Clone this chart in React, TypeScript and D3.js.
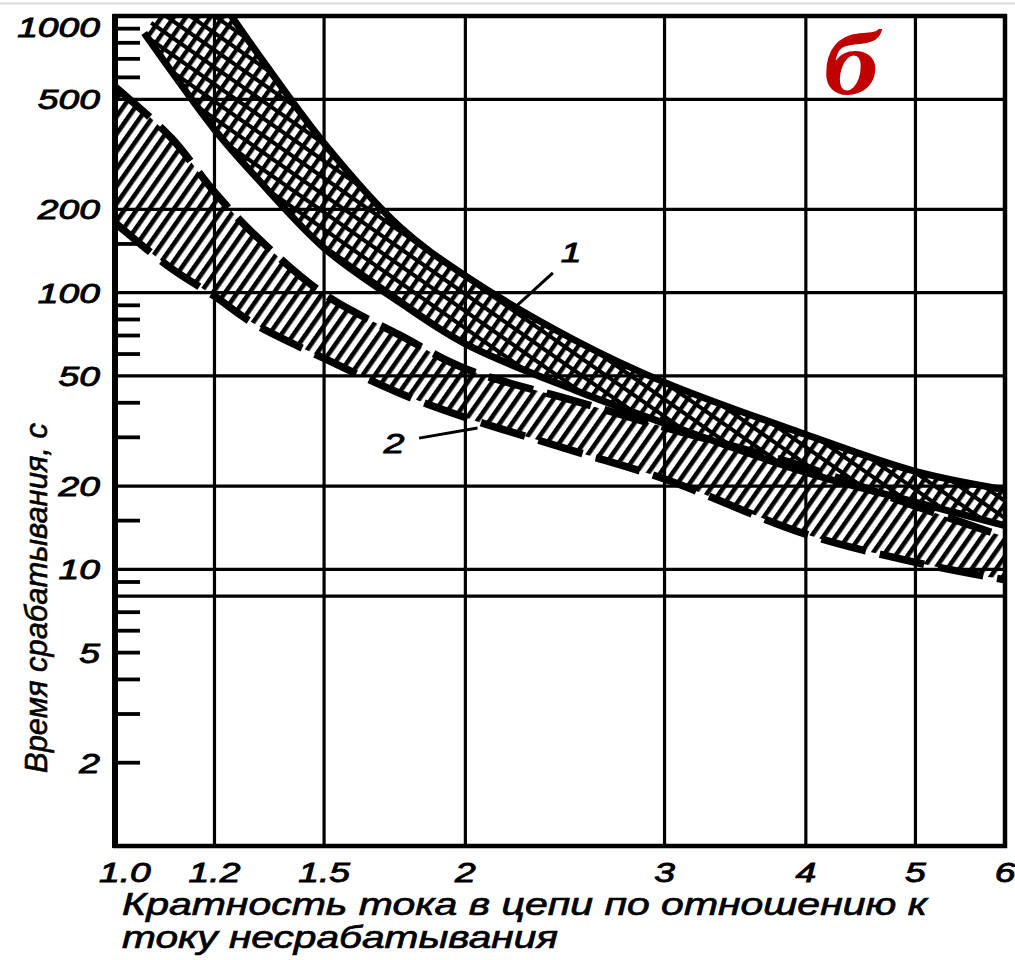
import React from 'react';
import * as d3 from 'd3';

const W = 1015;
const H = 960;
const PLOT = { left: 115, right: 1005, top: 16, bottom: 846 };

const X_DOMAIN: [number, number] = [0.98, 6];
const Y_DOMAIN: [number, number] = [1, 1000];

const xTickValues = [1.0, 1.2, 1.5, 2, 3, 4, 5, 6];
const xTickLabels = ['1.0', '1.2', '1.5', '2', '3', '4', '5', '6'];
const xGridValues = [1.2, 1.5, 2, 3, 4, 5];

const yTickValues = [1000, 500, 200, 100, 50, 20, 10, 5, 2];
const yTickLabels = ['1000', '500', '200', '100', '50', '20', '10', '5', '2'];
const yGridValues = [500, 200, 100, 50, 20, 10, 8];
const yMinorTicks = [900, 800, 700, 600, 150, 90, 80, 70, 60, 40, 30, 15, 9, 7, 6, 5, 4, 3, 2];

// Band 1 (cross-hatched), solid boundaries
const band1UpperX = [1.15, 1.2, 1.3, 1.5, 1.75, 2, 2.5, 3, 4, 5, 6];
const band1UpperY = [1576, 1227, 766, 347, 173, 115, 67.3, 47.4, 30.7, 22.6, 19.4];
const band1LowerX = [1.04, 1.1, 1.2, 1.3, 1.5, 1.75, 2, 2.5, 3, 4, 5, 6];
const band1LowerY = [868, 629, 389, 267, 145, 92.2, 65.3, 44.4, 33.7, 22.4, 17.5, 14.4];

// Band 2 (single-hatched), dashed boundaries
const band2X = [0.98, 1.0, 1.1, 1.2, 1.3, 1.5, 1.75, 2, 2.5, 3, 4, 5, 6];
const band2UpperY = [554, 517, 361, 231, 163, 98.8, 70.2, 53.1, 40.6, 32.6, 23.4, 16.9, 13.1];
const band2LowerY = [179, 167, 122, 97.1, 77.3, 57.9, 43.3, 35.4, 26.7, 21.2, 13.4, 10.6, 9.16];

// Curve labels with leader lines (data coordinates)
const curveLabels = [
  { text: '1', tx: 2.48, ty: 129, x1: 2.39, y1: 118, x2: 2.2, y2: 86.6 },
  { text: '2', tx: 1.73, ty: 26.3, x1: 1.82, y1: 29.8, x2: 2.05, y2: 32.4 },
];

const yTitle = 'Время срабатывания, с';
const xTitleLine1 = 'Кратность тока в цепи по отношению к';
const xTitleLine2 = 'току несрабатывания';
const panelLetter = 'б';

const SANS = '"Liberation Sans", Arial, sans-serif';
const SERIF = '"Liberation Serif", "Times New Roman", serif';
const STRETCH = 1.33;

export default function App() {
  const x = d3.scaleLog().domain(X_DOMAIN).range([PLOT.left, PLOT.right]);
  const y = d3.scaleLog().domain(Y_DOMAIN).range([PLOT.bottom, PLOT.top]);

  const line = d3
    .line<[number, number]>()
    .x((d) => x(d[0]))
    .y((d) => y(d[1]))
    .curve(d3.curveCatmullRom.alpha(0.5));

  const zip = (xs: number[], ys: number[]): [number, number][] => xs.map((v, i) => [v, ys[i]]);

  const b1U = zip(band1UpperX, band1UpperY);
  const b1L = zip(band1LowerX, band1LowerY);
  const b2U = zip(band2X, band2UpperY);
  const b2L = zip(band2X, band2LowerY);

  const areaPath = (lower: [number, number][], upper: [number, number][]) => {
    const a = line(lower) as string;
    const b = (line(upper.slice().reverse()) as string).substring(1);
    return a + 'L' + b + 'Z';
  };

  const textStyle = {
    fontFamily: SANS,
    fontStyle: 'italic' as const,
    fill: '#000',
    stroke: '#000',
  };

  return (
    <svg
      width={W}
      height={H}
      style={{ position: 'absolute', left: 0, top: 0, background: '#fff' }}
    >
      <defs>
        <clipPath id="plotClip">
          <rect x={PLOT.left} y={PLOT.top} width={PLOT.right - PLOT.left} height={PLOT.bottom - PLOT.top} />
        </clipPath>
        <pattern id="hatch2" patternUnits="userSpaceOnUse" width={10} height={10} patternTransform="rotate(35)">
          <rect x={0} y={0} width={4.6} height={10} fill="#000" />
        </pattern>
        <pattern id="hatch1" patternUnits="userSpaceOnUse" width={10} height={14} patternTransform="rotate(35)">
          <rect x={0} y={0} width={4.4} height={14} fill="#000" />
          <rect x={0} y={0} width={10} height={4} fill="#000" />
        </pattern>
      </defs>

      <rect x={0} y={0} width={W} height={H} fill="#fff" />
      <line x1={0} x2={W} y1={3.5} y2={3.5} stroke="#e2e2e2" strokeWidth={2.5} />

      {/* grid */}
      {xGridValues.map((v) => (
        <line key={'gx' + v} x1={x(v)} x2={x(v)} y1={PLOT.top} y2={PLOT.bottom} stroke="#000" strokeWidth={3.2} />
      ))}
      {yGridValues.map((v) => (
        <line key={'gy' + v} x1={PLOT.left} x2={PLOT.right} y1={y(v)} y2={y(v)} stroke="#000" strokeWidth={3.2} />
      ))}
      {yMinorTicks.map((v) => (
        <line key={'mt' + v} x1={PLOT.left} x2={PLOT.left + 25} y1={y(v)} y2={y(v)} stroke="#000" strokeWidth={3.8} />
      ))}

      {/* bands */}
      <g clipPath="url(#plotClip)">
        <path d={areaPath(b2L, b2U)} fill="url(#hatch2)" />
        <path d={areaPath(b1L, b1U)} fill="url(#hatch1)" />
        <path d={line(b2U) as string} fill="none" stroke="#000" strokeWidth={7.5} strokeDasharray="46 14" />
        <path d={line(b2L) as string} fill="none" stroke="#000" strokeWidth={7.5} strokeDasharray="46 14" />
        <path d={line(b1U) as string} fill="none" stroke="#000" strokeWidth={7} />
        <path d={line(b1L) as string} fill="none" stroke="#000" strokeWidth={7} />
      </g>

      {/* frame */}
      <rect
        x={PLOT.left}
        y={PLOT.top}
        width={PLOT.right - PLOT.left}
        height={PLOT.bottom - PLOT.top}
        fill="none"
        stroke="#000"
        strokeWidth={4.5}
      />
      <line x1={PLOT.left} x2={PLOT.left} y1={PLOT.top - 2} y2={PLOT.bottom + 2} stroke="#000" strokeWidth={6} />

      {/* curve labels */}
      {curveLabels.map((c) => (
        <g key={'cl' + c.text}>
          <line x1={x(c.x1)} y1={y(c.y1)} x2={x(c.x2)} y2={y(c.y2)} stroke="#000" strokeWidth={3} />
          <text
            transform={`translate(${x(c.tx)},${y(c.ty)}) scale(${STRETCH},1)`}
            textAnchor="middle"
            fontSize={28}
            strokeWidth={0.9}
            {...textStyle}
          >
            {c.text}
          </text>
        </g>
      ))}

      {/* y tick labels */}
      {yTickValues.map((v, i) => (
        <text
          key={'yl' + v}
          transform={`translate(100,${Math.max(y(v), 27)}) scale(${STRETCH},1)`}
          textAnchor="end"
          dy="0.36em"
          fontSize={28}
          strokeWidth={0.9}
          {...textStyle}
        >
          {yTickLabels[i]}
        </text>
      ))}

      {/* x tick labels */}
      {xTickValues.map((v, i) => (
        <text
          key={'xl' + v}
          transform={`translate(${x(v)},882) scale(${STRETCH},1)`}
          textAnchor="middle"
          fontSize={28}
          strokeWidth={0.9}
          {...textStyle}
        >
          {xTickLabels[i]}
        </text>
      ))}

      {/* axis titles */}
      <text
        transform="translate(47,598) rotate(-90)"
        textAnchor="middle"
        fontSize={32}
        textLength={350}
        lengthAdjust="spacingAndGlyphs"
        strokeWidth={0.6}
        {...textStyle}
      >
        {yTitle}
      </text>
      <text
        x={122}
        y={915}
        fontSize={32}
        textLength={805}
        lengthAdjust="spacingAndGlyphs"
        strokeWidth={0.7}
        {...textStyle}
      >
        {xTitleLine1}
      </text>
      <text
        x={122}
        y={948}
        fontSize={32}
        textLength={436}
        lengthAdjust="spacingAndGlyphs"
        strokeWidth={0.7}
        {...textStyle}
      >
        {xTitleLine2}
      </text>

      {/* panel letter */}
      <text
        transform="translate(851,94) scale(1.2,1)"
        textAnchor="middle"
        fontFamily={SERIF}
        fontStyle="italic"
        fontWeight="bold"
        fontSize={92}
        fill="#c00000"
      >
        {panelLetter}
      </text>
    </svg>
  );
}
